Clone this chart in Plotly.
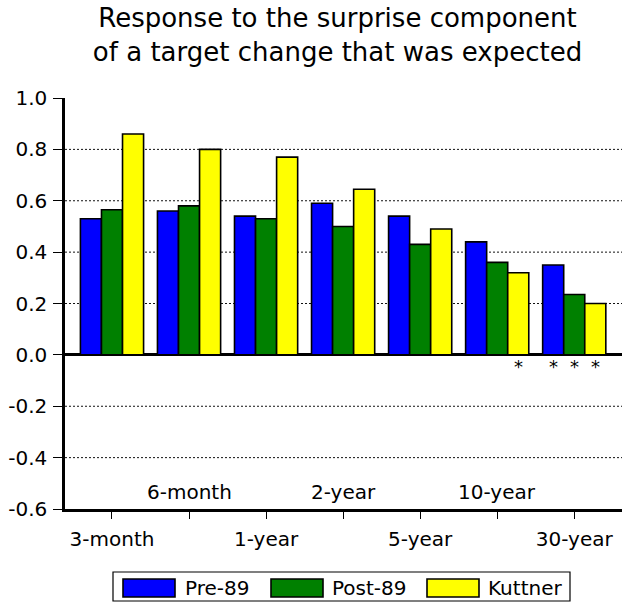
import plotly.graph_objects as go

categories = ["3-month", "6-month", "1-year", "2-year", "5-year", "10-year", "30-year"]
label_below = [True, False, True, False, True, False, True]
series_names = ["Pre-89", "Post-89", "Kuttner"]
pre89 = [0.53, 0.56, 0.54, 0.59, 0.54, 0.44, 0.35]
post89 = [0.565, 0.58, 0.53, 0.50, 0.43, 0.36, 0.235]
kuttner = [0.86, 0.80, 0.77, 0.645, 0.49, 0.32, 0.20]
# significance markers (*) per series
sig_pre = [False, False, False, False, False, False, True]
sig_post = [False, False, False, False, False, False, True]
sig_kut = [False, False, False, False, False, True, True]
y_ticks = [-0.6, -0.4, -0.2, 0.0, 0.2, 0.4, 0.6, 0.8, 1.0]
y_ticktext = ["-0.6", "-0.4", "-0.2", "0.0", "0.2", "0.4", "0.6", "0.8", "1.0"]
grid_vals = [-0.4, -0.2, 0.2, 0.4, 0.6, 0.8]

colors = ["#0000FF", "#008000", "#FFFF00"]
values = [pre89, post89, kuttner]
sigs = [sig_pre, sig_post, sig_kut]
FONT = "DejaVu Sans, Verdana, sans-serif"

W, H = 624, 603
L, R, T, B = 65, 2, 98, 94
PW, PH = W - L - R, H - T - B


def px2x(px):
    # screen px -> paper x
    return (px - L) / PW


def py2y(py):
    # screen py -> paper y
    return (H - B - py) / PH


bargap = 0.18
bw = (1 - bargap) / 3
xs = list(range(len(categories)))

fig = go.Figure()
for name, vals, col in zip(series_names, values, colors):
    fig.add_trace(go.Bar(x=xs, y=vals, name=name, showlegend=False,
                         marker=dict(color=col, line=dict(color="black", width=1.6))))

shapes = []
for g in grid_vals:
    shapes.append(dict(type="line", xref="paper", x0=0, x1=1, yref="y", y0=g, y1=g,
                       line=dict(color="#111", width=1, dash="2px,2px"), layer="below"))

anns = []
for j, sg in enumerate(sigs):
    for i, s in enumerate(sg):
        if s:
            anns.append(dict(x=i + (j - 1) * bw, y=-0.045, xref="x", yref="y", text="*",
                             showarrow=False, font=dict(size=18, color="black", family=FONT)))
for i, (c, b) in enumerate(zip(categories, label_below)):
    if not b:
        anns.append(dict(x=i, y=-0.533, xref="x", yref="y", text=c, showarrow=False,
                         font=dict(size=20, color="black", family=FONT)))

# custom legend with wide swatches
shapes.append(dict(type="rect", xref="paper", yref="paper", x0=px2x(113), x1=px2x(570),
                   y0=py2y(601), y1=py2y(572), line=dict(color="black", width=1.2),
                   fillcolor="white"))
sw_left = [123, 271, 427]
txt_left = [183, 330, 486]
for name, col, sx, tx in zip(series_names, colors, sw_left, txt_left):
    shapes.append(dict(type="rect", xref="paper", yref="paper", x0=px2x(sx), x1=px2x(sx + 52),
                       y0=py2y(597), y1=py2y(579), line=dict(color="black", width=1.6),
                       fillcolor=col))
    anns.append(dict(x=px2x(tx), y=py2y(588), xref="paper", yref="paper", text=name,
                     showarrow=False, xanchor="left", yanchor="middle",
                     font=dict(size=20, color="black", family=FONT)))

fig.update_layout(
    width=W, height=H,
    margin=dict(l=L, r=R, t=T, b=B),
    paper_bgcolor="white", plot_bgcolor="white",
    barmode="group", bargap=bargap, bargroupgap=0,
    showlegend=False,
    title=dict(text="Response to the surprise component<br>of a target change that was expected",
               x=337.5 / W, xanchor="center", yref="container", y=1 - 27 / H, yanchor="top",
               font=dict(size=26, color="black", family=FONT)),
    font=dict(family=FONT, size=20, color="black"),
    xaxis=dict(range=[-0.61, 6.62], tickvals=xs,
               ticktext=[c if b else "" for c, b in zip(categories, label_below)],
               showgrid=False, zeroline=False, showline=True, linecolor="black", linewidth=2.5,
               ticks="outside", ticklen=7, tickcolor="black", tickwidth=1.2, ticklabelstandoff=3),
    yaxis=dict(range=[-0.6, 1.0], tickvals=y_ticks, ticktext=y_ticktext,
               showgrid=False, zeroline=True, zerolinecolor="black", zerolinewidth=2.5,
               showline=True, linecolor="black", linewidth=2.5,
               ticks="outside", ticklen=9, tickcolor="black", tickwidth=1.2, ticklabelstandoff=2),
    shapes=shapes,
    annotations=anns,
)
fig.write_html("out.html", config={"displayModeBar": False},
               post_script="document.body.style.margin='0';document.body.style.overflow='hidden';")
